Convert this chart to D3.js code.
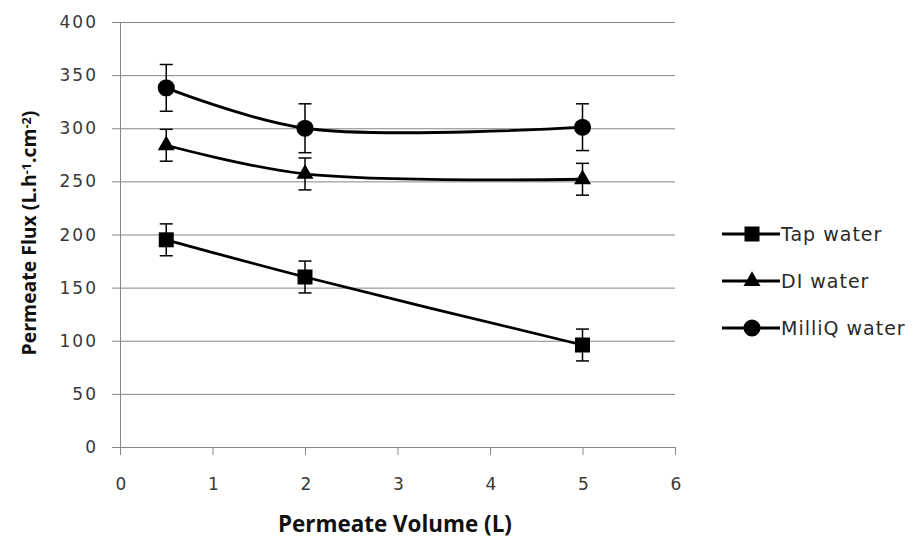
<!DOCTYPE html>
<html>
<head>
<meta charset="utf-8">
<script src="https://cdn.jsdelivr.net/npm/d3@7"></script>
<style>
  body { margin: 0; background: #fff; }
  text { font-family: "DejaVu Sans", Verdana, sans-serif; }
</style>
</head>
<body>
<div id="chart"></div>
<script>
// data
let volumes = [0.5, 2, 5];
let seriesNames = ["Tap water", "DI water", "MilliQ water"];
let tapFlux = [195, 160, 96];
let tapErr = [15, 15, 15];
let diFlux = [284, 257, 252];
let diErr = [15, 15, 15];
let milliqFlux = [338, 300, 301];
let milliqErr = [22, 23, 22];
let xTicks = [0, 1, 2, 3, 4, 5, 6];
let yTicks = [0, 50, 100, 150, 200, 250, 300, 350, 400];

let width = 920, height = 543;
let margin = {left: 120, right: 245, top: 22, bottom: 96};

let svg = d3.select("#chart").append("svg")
    .attr("width", width)
    .attr("height", height);

let x = d3.scaleLinear().domain([0, 6]).range([margin.left, width - margin.right]);
let y = d3.scaleLinear().domain([0, 400]).range([height - margin.bottom, margin.top]);

let series = [
    {name: seriesNames[0], vals: tapFlux, err: tapErr, shape: "square"},
    {name: seriesNames[1], vals: diFlux, err: diErr, shape: "triangle"},
    {name: seriesNames[2], vals: milliqFlux, err: milliqErr, shape: "circle"}
];

let gridColor = "#868686";

// gridlines
svg.append("g").selectAll("line").data(yTicks).enter().append("line")
    .attr("x1", x(0) - 8).attr("x2", x(6))
    .attr("y1", d => y(d) + 0.5).attr("y2", d => y(d) + 0.5)
    .attr("stroke", gridColor).attr("stroke-width", 1);

// y axis line
svg.append("line")
    .attr("x1", x(0) + 0.5).attr("x2", x(0) + 0.5)
    .attr("y1", y(400)).attr("y2", y(0) + 8)
    .attr("stroke", gridColor);

// x ticks
svg.append("g").selectAll("line").data(xTicks).enter().append("line")
    .attr("x1", d => x(d) + 0.5).attr("x2", d => x(d) + 0.5)
    .attr("y1", y(0)).attr("y2", y(0) + 8)
    .attr("stroke", gridColor);

// tick labels
svg.append("g").selectAll("text").data(yTicks).enter().append("text")
    .attr("x", 98).attr("y", d => y(d) + 6)
    .attr("text-anchor", "end")
    .style("font-size", "17px").style("letter-spacing", "2px").attr("fill", "#383838")
    .text(d => d);

svg.append("g").selectAll("text").data(xTicks).enter().append("text")
    .attr("x", d => x(d) + 1).attr("y", y(0) + 43)
    .attr("text-anchor", "middle")
    .style("font-size", "17px").attr("fill", "#383838")
    .text(d => d);

// axis titles, sized to the width they take in the picture
let fitText = (sel, target) => {
    let len = sel.node().getComputedTextLength();
    sel.style("font-size", `${20 * target / len}px`);
};

let xt = svg.append("text")
    .attr("x", 395).attr("y", 532)
    .attr("text-anchor", "middle")
    .style("font-family", "'Open Sans', sans-serif")
    .style("font-size", "20px").style("font-weight", "bold").attr("fill", "#111")
    .text("Permeate Volume (L)");
fitText(xt, 234);

let yt = svg.append("text")
    .attr("transform", `translate(36, 233) rotate(-90)`)
    .attr("text-anchor", "middle")
    .style("font-family", "'Open Sans', sans-serif")
    .style("font-size", "20px").style("font-weight", "bold").attr("fill", "#111");
yt.append("tspan").text("Permeate Flux  (L.h");
yt.append("tspan").attr("dy", "-0.4em").style("font-size", "65%").text("-1");
yt.append("tspan").attr("dy", "0.26em").text(".cm");
yt.append("tspan").attr("dy", "-0.4em").style("font-size", "65%").text("-2");
yt.append("tspan").attr("dy", "0.26em").text(")");
fitText(yt, 245);

let symbolFor = shape => {
    if (shape === "square") return d3.symbol().type(d3.symbolSquare).size(225);
    if (shape === "triangle") return d3.symbol().type(d3.symbolTriangle).size(125);
    return d3.symbol().type(d3.symbolCircle).size(230);
};

let line = d3.line()
    .x(d => x(d[0]))
    .y(d => y(d[1]))
    .curve(d3.curveCatmullRom.alpha(0.5));

series.forEach(s => {
    let pts = volumes.map((v, i) => [v, s.vals[i], s.err[i]]);
    let g = svg.append("g");

    g.append("path")
        .datum(pts)
        .attr("d", line)
        .attr("fill", "none")
        .attr("stroke", "#000")
        .attr("stroke-width", 2.8);

    // error bars
    let eb = g.selectAll(".eb").data(pts).enter().append("g");
    eb.append("line")
        .attr("x1", d => x(d[0])).attr("x2", d => x(d[0]))
        .attr("y1", d => y(d[1] + d[2])).attr("y2", d => y(d[1] - d[2]))
        .attr("stroke", "#000").attr("stroke-width", 1.5);
    [1, -1].forEach(sgn => {
        eb.append("line")
            .attr("x1", d => x(d[0]) - 6.5).attr("x2", d => x(d[0]) + 6.5)
            .attr("y1", d => y(d[1] + sgn * d[2])).attr("y2", d => y(d[1] + sgn * d[2]))
            .attr("stroke", "#000").attr("stroke-width", 1.5);
    });

    g.selectAll(".mk").data(pts).enter().append("path")
        .attr("transform", d => `translate(${x(d[0])}, ${y(d[1])})`)
        .attr("d", symbolFor(s.shape))
        .attr("fill", "#000");
});

// legend
let legendY = [234, 281, 328];
let legend = svg.append("g");
series.forEach((s, i) => {
    let gy = legendY[i];
    legend.append("line")
        .attr("x1", 722).attr("x2", 780)
        .attr("y1", gy).attr("y2", gy)
        .attr("stroke", "#000").attr("stroke-width", 2.8);
    legend.append("path")
        .attr("transform", `translate(752, ${gy})`)
        .attr("d", symbolFor(s.shape))
        .attr("fill", "#000");
    legend.append("text")
        .attr("x", 781).attr("y", gy + 7)
        .style("font-size", "19px").style("letter-spacing", "1px").attr("fill", "#2a2a2a")
        .text(s.name);
});
</script>
</body>
</html>
